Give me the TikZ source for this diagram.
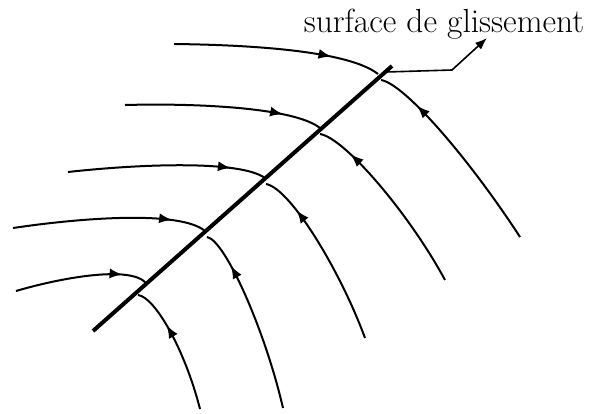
\documentclass[tikz,border=0pt]{standalone}
\usetikzlibrary{arrows.meta,decorations.markings}
\tikzset{
  flow/.style={line width=1pt,postaction={decorate,decoration={markings,mark=at position #1 with {\arrow{Latex[length=6.5pt,width=5pt]}}}}},
  surf/.style={line width=2pt},
  leader/.style={line width=0.8pt,-{Latex[length=6pt,width=4.5pt]}}
}
\begin{document}
\begin{tikzpicture}[x=0.5pt,y=-0.5pt]
\useasboundingbox (0,0) rectangle (593,413);
% slip surface
\coordinate (s0) at (93,331);
\coordinate (s1) at (392,66);
\draw[surf] (s0) -- (s1);
% crossing points
\coordinate (a1) at (378,74); \coordinate (b1) at (381,80);
\coordinate (a2) at (320,128); \coordinate (b2) at (320,134);
\coordinate (a3) at (265,178); \coordinate (b3) at (266,184);
\coordinate (a4) at (205,231); \coordinate (b4) at (207,237);
\coordinate (a5) at (146,283); \coordinate (b5) at (138,295);
% streamline 1
\draw[flow=0.76] (174,44) .. controls (260,45) and (350,52) .. (a1);
\draw[flow=0.79] (520,237) .. controls (470,160) and (405,84) .. (b1);
% streamline 2
\draw[flow=0.8] (125,105) .. controls (200,103) and (295,108) .. (a2);
\draw[flow=0.81] (445,280) .. controls (410,215) and (345,138) .. (b2);
% streamline 3
\draw[flow=0.82] (68,172) .. controls (140,164) and (240,160) .. (a3);
\draw[flow=0.78] (365,338) .. controls (340,270) and (290,188) .. (b3);
% streamline 4
\draw[flow=0.82] (13,228) .. controls (80,218) and (180,210) .. (a4);
\draw[flow=0.8] (283,408) .. controls (265,330) and (225,240) .. (b4);
% streamline 5
\draw[flow=0.81] (16,291) .. controls (60,278) and (130,265) .. (a5);
\draw[flow=0.68] (200,409) .. controls (185,350) and (155,297) .. (b5);
% label
\coordinate (l0) at (386,72);
\coordinate (l1) at (452,70);
\node[anchor=base,inner sep=0pt,font=\fontsize{16.7}{20}\selectfont] (lab) at (444,32) {surface de glissement};
\coordinate (l2) at (487,38);
\draw[leader] (l0) -- (l1) -- (l2);
\end{tikzpicture}
\end{document}
